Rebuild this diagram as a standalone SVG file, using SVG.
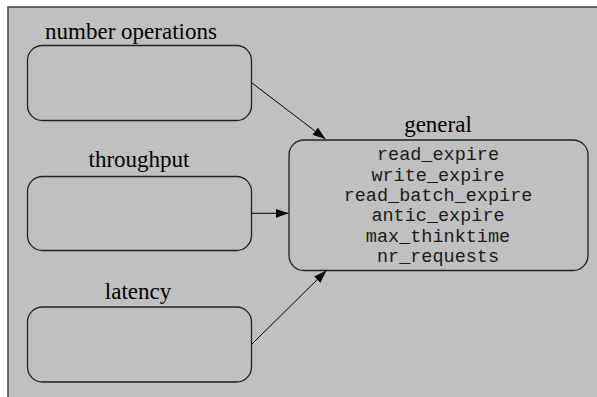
<svg xmlns="http://www.w3.org/2000/svg" width="597" height="397" viewBox="0 0 597 397">
<defs>
<marker id="ah" viewBox="0 0 13 9" refX="13" refY="4.5" markerWidth="13" markerHeight="9" markerUnits="userSpaceOnUse" orient="auto">
<path d="M0,0 L13,4.5 L0,9 Z" fill="#000"/>
</marker>
<style>
.box{fill:#c0c0c0;stroke:#202020;stroke-width:1.3}
.lbl{font-family:"Liberation Serif","Times New Roman",serif;font-size:23px;fill:#000;text-anchor:middle}
.mono{font-family:"Liberation Mono","Courier New",monospace;font-size:18.5px;fill:#1a1a1a;text-anchor:middle}
.edge{stroke:#000;stroke-width:1;fill:none;marker-end:url(#ah)}
</style>
</defs>
<rect x="0" y="0" width="597" height="397" fill="#fff"/>
<rect x="8" y="7" width="600" height="400" fill="#c0c0c0" stroke="#404040" stroke-width="1.5"/>
<g id="number_operations">
<text class="lbl" x="131" y="39">number operations</text>
<rect class="box" x="27.5" y="45.5" width="224" height="75" rx="15" ry="15"/>
</g>
<g id="throughput">
<text class="lbl" x="139" y="167">throughput</text>
<rect class="box" x="27.5" y="176.5" width="224" height="74" rx="15" ry="15"/>
</g>
<g id="latency">
<text class="lbl" x="138" y="299">latency</text>
<rect class="box" x="27.5" y="307" width="224" height="75" rx="15" ry="15"/>
</g>
<g id="general">
<text class="lbl" x="438" y="132">general</text>
<rect class="box" x="289" y="140" width="299" height="130.5" rx="15" ry="15"/>
<text class="mono" x="438" y="160">read_expire</text>
<text class="mono" x="438" y="180.5">write_expire</text>
<text class="mono" x="438" y="201">read_batch_expire</text>
<text class="mono" x="438" y="221.3">antic_expire</text>
<text class="mono" x="438" y="241.5">max_thinktime</text>
<text class="mono" x="438" y="261.8">nr_requests</text>
</g>
<g id="connectors">
<line class="edge" x1="252" y1="83" x2="325.5" y2="139"/>
<line class="edge" x1="252" y1="213.3" x2="288.5" y2="213.3"/>
<line class="edge" x1="252" y1="344" x2="326.5" y2="270.5"/>
</g>
</svg>
